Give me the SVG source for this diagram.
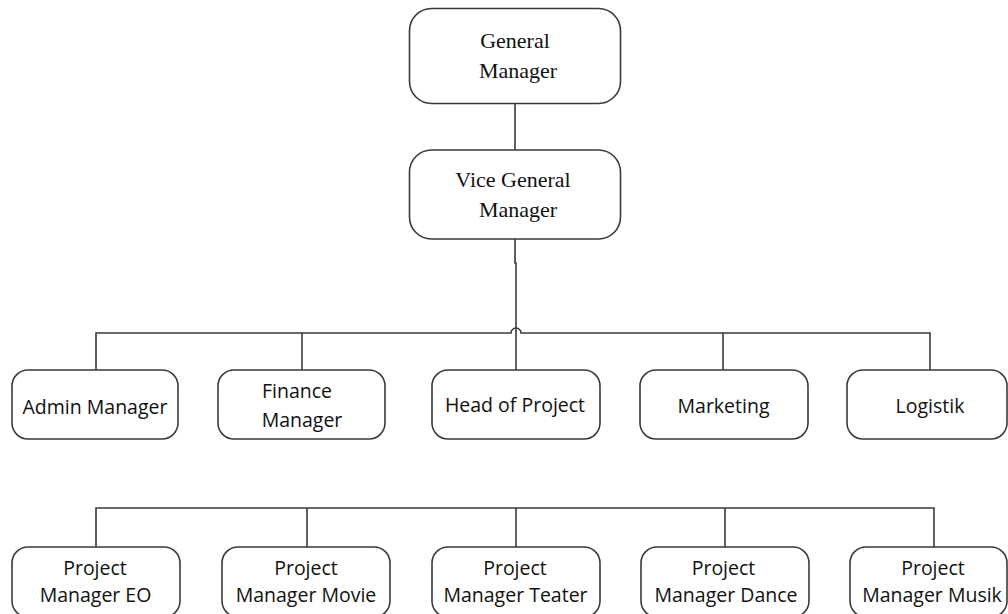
<svg xmlns="http://www.w3.org/2000/svg" width="1008" height="614" viewBox="0 0 1008 614">
<style>
.box{fill:#fff;stroke:#3a3a3a;stroke-width:1.6}
.ln{fill:none;stroke:#3a3a3a;stroke-width:1.6}
.s{font-family:"Liberation Serif","Times New Roman",serif;font-size:22px;fill:#111;text-anchor:middle}
.t{font-family:"Open Sans","DejaVu Sans",sans-serif;font-size:19.5px;fill:#111;text-anchor:middle}
</style>
<rect width="1008" height="614" fill="#fff"/>
<g id="connectors">
<line class="ln" x1="515" y1="103" x2="515" y2="150"/>
<path class="ln" d="M515,239 V263 H516 V370"/>
<path class="ln" d="M96,370 V333 H511 A5,5 0 0 1 521,333 H930 V370"/>
<line class="ln" x1="302" y1="333" x2="302" y2="370"/>
<line class="ln" x1="723" y1="333" x2="723" y2="370"/>
<path class="ln" d="M96,547 V508 H934 V547"/>
<line class="ln" x1="307" y1="508" x2="307" y2="547"/>
<line class="ln" x1="516" y1="508" x2="516" y2="547"/>
<line class="ln" x1="725" y1="508" x2="725" y2="547"/>
</g>
<g id="general-manager">
<rect class="box" x="409.5" y="8.5" width="211" height="95" rx="22"/>
<text class="s" x="515" y="48">General</text>
<text class="s" x="518" y="78">Manager</text>
</g>
<g id="vice-general-manager">
<rect class="box" x="409.5" y="150" width="211" height="89" rx="22"/>
<text class="s" x="513" y="187">Vice General</text>
<text class="s" x="518" y="217">Manager</text>
</g>
<g id="admin-manager">
<rect class="box" x="12" y="370" width="166" height="69" rx="16"/>
<text class="t" x="95" y="414">Admin Manager</text>
</g>
<g id="finance-manager">
<rect class="box" x="218" y="370" width="167" height="69" rx="16"/>
<text class="t" x="297" y="398">Finance</text>
<text class="t" x="302" y="427">Manager</text>
</g>
<g id="head-of-project">
<rect class="box" x="432" y="370" width="168" height="69" rx="16"/>
<text class="t" x="515" y="412">Head of Project</text>
</g>
<g id="marketing">
<rect class="box" x="640" y="370" width="168" height="69" rx="16"/>
<text class="t" x="723.5" y="413">Marketing</text>
</g>
<g id="logistik">
<rect class="box" x="847" y="370" width="160" height="69" rx="16"/>
<text class="t" x="930" y="413">Logistik</text>
</g>
<g id="pm-eo">
<rect class="box" x="12" y="547" width="168" height="70" rx="16"/>
<text class="t" x="95" y="575">Project</text>
<text class="t" x="95.5" y="602">Manager EO</text>
</g>
<g id="pm-movie">
<rect class="box" x="222" y="547" width="168" height="70" rx="16"/>
<text class="t" x="306" y="575">Project</text>
<text class="t" x="306" y="602">Manager Movie</text>
</g>
<g id="pm-teater">
<rect class="box" x="432" y="547" width="168" height="70" rx="16"/>
<text class="t" x="515" y="575">Project</text>
<text class="t" x="515.5" y="602">Manager Teater</text>
</g>
<g id="pm-dance">
<rect class="box" x="641" y="547" width="168" height="70" rx="16"/>
<text class="t" x="723.5" y="575">Project</text>
<text class="t" x="726" y="602">Manager Dance</text>
</g>
<g id="pm-musik">
<rect class="box" x="850" y="547" width="157" height="70" rx="16"/>
<text class="t" x="933" y="575">Project</text>
<text class="t" x="932" y="602">Manager Musik</text>
</g>
</svg>
